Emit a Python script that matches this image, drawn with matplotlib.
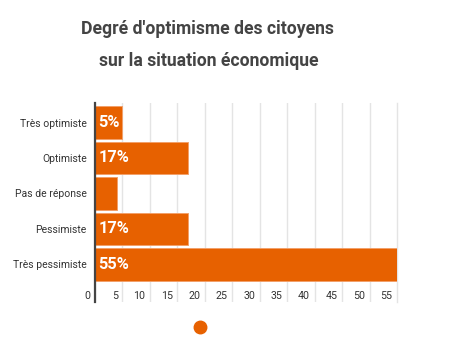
import matplotlib.pyplot as plt
from matplotlib.lines import Line2D
from matplotlib.transforms import ScaledTranslation

plt.rcParams["font.family"] = ["Roboto", "DejaVu Sans"]

categories = ["Très optimiste", "Optimiste", "Pas de réponse",
              "Pessimiste", "Très pessimiste"]
values = [5, 17, 4, 17, 55]
bar_labels = ["5%", "17%", "", "17%", "55%"]
x_ticks = [0, 5, 10, 15, 20, 25, 30, 35, 40, 45, 50, 55]
title_lines = ["Degré d'optimisme des citoyens", "sur la situation économique"]

W, H, DPI = 456, 355, 100
bar_color = "#e76100"

fig = plt.figure(figsize=(W / DPI, H / DPI), dpi=DPI)
ax = fig.add_axes([95 / W, 1 - 302 / H, (397 - 95) / W, (302 - 103) / H])

ypos = list(range(len(categories)))
ax.barh(ypos, values, height=0.92, color=bar_color,
        edgecolor="#f2a06a", linewidth=0.7, zorder=2)

for y, v, lab in zip(ypos, values, bar_labels):
    if lab:
        ax.annotate(lab, (0, y), xytext=(2.5, 0), textcoords="offset points",
                    ha="left", va="center", color="white",
                    fontsize=11.8, fontweight="bold", zorder=3)

ax.set_xlim(0, 55)
ax.set_ylim(5.06, -0.55)
ax.set_yticks(ypos)
ax.set_yticklabels(categories)
ax.set_xticks(x_ticks)
ax.set_xticklabels([str(t) for t in x_ticks])

ax.tick_params(axis="y", length=0, pad=6, labelsize=7.5, labelcolor="#333333")
ax.tick_params(axis="x", length=0, pad=-2, labelsize=7.7, labelcolor="#333333")
shift = ScaledTranslation(-4.5 / DPI, 0, fig.dpi_scale_trans)
for lab in ax.get_xticklabels():
    lab.set_horizontalalignment("right")
    lab.set_verticalalignment("baseline")
    lab.set_transform(lab.get_transform() + shift)

ax.grid(axis="x", color="#e4e4e4", linewidth=1, zorder=0)
ax.xaxis.get_gridlines()[-1].set_clip_on(False)
for side in ["top", "right", "bottom"]:
    ax.spines[side].set_visible(False)
ax.spines["left"].set_color("#444444")
ax.spines["left"].set_linewidth(1.6)
ax.spines["left"].set_zorder(4)

fig.text(207 / W, 1 - 34 / H, title_lines[0], ha="center", va="baseline",
         fontsize=12.7, fontweight="bold", color="#444444")
fig.text(209 / W, 1 - 66 / H, title_lines[1], ha="center", va="baseline",
         fontsize=12.7, fontweight="bold", color="#444444")

dot = Line2D([], [], marker="o", linestyle="", markersize=9, color=bar_color)
fig.legend([dot], [""], loc="center", bbox_to_anchor=(200 / W, 1 - 328 / H),
           frameon=False, handlelength=1, handletextpad=0, borderpad=0)

fig.savefig("out.png", dpi=DPI)
